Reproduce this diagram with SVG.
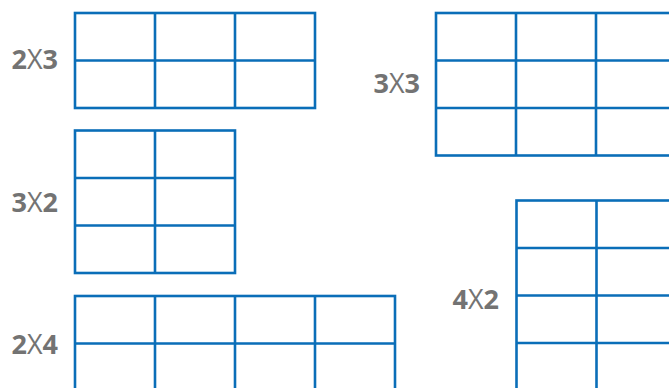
<svg xmlns="http://www.w3.org/2000/svg" width="669" height="388" viewBox="0 0 669 388">
<style>
.g{fill:none;stroke:#0A6EB8;stroke-width:2.6}
.lbl{font-family:"Open Sans","DejaVu Sans",sans-serif;font-size:27px;fill:#737373;font-weight:700;text-anchor:end}
.x{font-weight:400}
</style>
<rect width="669" height="388" fill="#fff"/>
<g id="grid-2x3">
<rect class="g" x="75" y="13" width="240" height="95"/>
<path class="g" d="M75 60.5H315M155 13V108M235 13V108"/>
<text class="lbl" x="58" y="69">2<tspan class="x">X</tspan>3</text>
</g>
<g id="grid-3x3">
<rect class="g" x="436" y="13" width="240" height="142.5"/>
<path class="g" d="M436 60.5H676M436 108H676M516 13V155.5M596 13V155.5"/>
<text class="lbl" x="420" y="93">3<tspan class="x">X</tspan>3</text>
</g>
<g id="grid-3x2">
<rect class="g" x="75" y="130.5" width="160" height="142.5"/>
<path class="g" d="M75 178H235M75 225.5H235M155 130.5V273"/>
<text class="lbl" x="58" y="211.5">3<tspan class="x">X</tspan>2</text>
</g>
<g id="grid-2x4">
<rect class="g" x="75" y="296" width="320" height="95"/>
<path class="g" d="M75 343.5H395M155 296V391M235 296V391M315 296V391"/>
<text class="lbl" x="58" y="354">2<tspan class="x">X</tspan>4</text>
</g>
<g id="grid-4x2">
<rect class="g" x="516.5" y="200.5" width="160" height="190"/>
<path class="g" d="M516.5 248H676.5M516.5 295.5H676.5M516.5 343H676.5M596.5 200.5V391"/>
<text class="lbl" x="499" y="309">4<tspan class="x">X</tspan>2</text>
</g>
<g id="connectors"/>
</svg>
